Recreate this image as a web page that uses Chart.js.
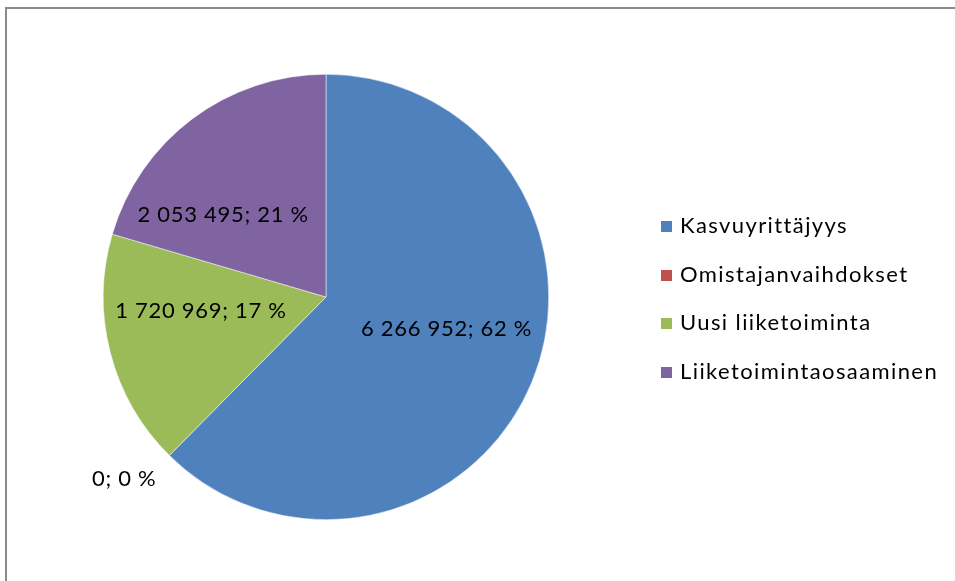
<!DOCTYPE html>
<html lang="fi">
<head>
<meta charset="utf-8">
<script src="https://cdn.jsdelivr.net/npm/chart.js@4"></script>
<style>
    html, body { margin: 0; padding: 0; background: #fff; overflow: hidden; }
    body { width: 955px; height: 581px; position: relative; font-family: Lato, 'Open Sans', sans-serif; }
    #frame { position: absolute; left: 5px; top: 7px; width: 1000px; height: 700px; border: 2px solid #8a8a8a; }
    #piirakka { position: absolute; left: 0; top: 0; }
    #selite { position: absolute; left: 661px; top: 201px; margin: 0; padding: 0; list-style: none; }
    #selite li { height: 48.5px; line-height: 48.5px; font-size: 22px; letter-spacing: 1.4px; color: #000; white-space: nowrap; }
    #selite span { display: inline-block; width: 11px; height: 11px; margin-right: 8px; vertical-align: 1px; }
</style>
</head>
<body>
<div id="frame"></div>
<canvas id="piirakka" width="955" height="581"></canvas>
<ul id="selite"></ul>
<script>
'use strict';

// Data luettu kuvasta
const kategoriat = ['Kasvuyrittäjyys', 'Omistajanvaihdokset', 'Uusi liiketoiminta', 'Liiketoimintaosaaminen'];
const arvot = [6266952, 0, 1720969, 2053495];
const prosentit = [62, 0, 17, 21];
const varit = ['#4F81BD', '#C0504D', '#9BBB59', '#8064A2'];

function muotoileLuku(v) {
    return String(v).replace(/\B(?=(\d{3})+(?!\d))/g, ' ');
}

// Tunnisteiden sijainti: kulman siirto (astetta) ja säde suhteessa ulkosäteeseen
const tunnistePaikat = [
    { dAng: -7.5, r: 0.56 },
    { dAng: 3.3, r: 1.22 },
    { dAng: 8, r: 0.565 },
    { dAng: -14.7, r: 0.59 }
];

const tunnisteet = {
    id: 'tunnisteet',
    afterDatasetsDraw(chart) {
        const ctx = chart.ctx;
        const meta = chart.getDatasetMeta(0);
        ctx.save();
        ctx.font = '22px Lato, "Open Sans", sans-serif';
        ctx.letterSpacing = '0.7px';
        ctx.fillStyle = '#000';
        ctx.textAlign = 'center';
        ctx.textBaseline = 'middle';
        meta.data.forEach((arc, i) => {
            const p = arc.getProps(['x', 'y', 'startAngle', 'endAngle', 'outerRadius'], true);
            const pos = tunnistePaikat[i];
            const kulma = (p.startAngle + p.endAngle) / 2 + pos.dAng * Math.PI / 180;
            const x = p.x + Math.cos(kulma) * p.outerRadius * pos.r;
            const y = p.y + Math.sin(kulma) * p.outerRadius * pos.r;
            ctx.fillText(muotoileLuku(arvot[i]) + '; ' + prosentit[i] + ' %', x, y);
        });
        ctx.restore();
    }
};

const selite = document.getElementById('selite');
kategoriat.forEach((k, i) => {
    const li = document.createElement('li');
    li.innerHTML = `<span style="background:${varit[i]}"></span>${k}`;
    selite.appendChild(li);
});

new Chart(document.getElementById('piirakka'), {
    type: 'pie',
    data: {
        labels: kategoriat,
        datasets: [{
            data: arvot,
            backgroundColor: varit,
            borderColor: '#ffffff',
            borderWidth: 0.5
        }]
    },
    options: {
        responsive: false,
        animation: false,
        layout: { padding: { top: 74, bottom: 61, left: 103, right: 406 } },
        plugins: {
            legend: { display: false },
            tooltip: { enabled: false }
        }
    },
    plugins: [tunnisteet]
});
</script>
</body>
</html>
